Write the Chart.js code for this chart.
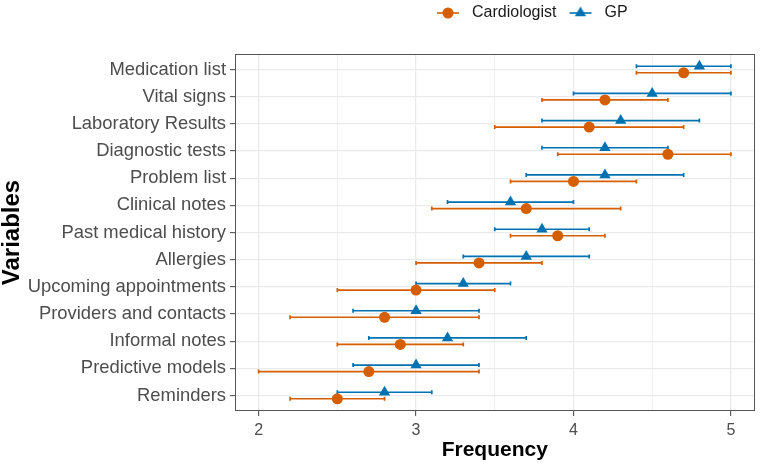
<!DOCTYPE html>
<html><head><meta charset="utf-8">
<script src="https://cdn.jsdelivr.net/npm/chart.js@4"></script>
<style>html,body{margin:0;padding:0;background:#fff;}</style>
</head><body>
<canvas id="c" width="761" height="464"></canvas>
<script>
const categories = ["Medication list","Vital signs","Laboratory Results","Diagnostic tests","Problem list","Clinical notes","Past medical history","Allergies","Upcoming appointments","Providers and contacts","Informal notes","Predictive models","Reminders"];
const seriesNames = ["Cardiologist","GP"];
const cardMean = [4.7,4.2,4.1,4.6,4.0,3.7,3.9,3.4,3.0,2.8,2.9,2.7,2.5];
const cardLow  = [4.4,3.8,3.5,3.9,3.6,3.1,3.6,3.0,2.5,2.2,2.5,2.0,2.2];
const cardHigh = [5.0,4.6,4.7,5.0,4.4,4.3,4.2,3.8,3.5,3.4,3.3,3.4,2.8];
const gpMean = [4.8,4.5,4.3,4.2,4.2,3.6,3.8,3.7,3.3,3.0,3.2,3.0,2.8];
const gpLow  = [4.4,4.0,3.8,3.8,3.7,3.2,3.5,3.3,3.0,2.6,2.7,2.6,2.5];
const gpHigh = [5.0,5.0,4.8,4.6,4.7,4.0,4.1,4.1,3.6,3.4,3.7,3.4,3.1];
const xTicks = [2,3,4,5];
const xMinorTicks = [2.5,3.5,4.5];

const ORANGE = '#D55E00', BLUE = '#0072B2';
const DODGE = 0.12;

function legendIcon(color, shape){
  const c = document.createElement('canvas');
  c.width = 30; c.height = 16;
  const g = c.getContext('2d');
  g.strokeStyle = color; g.fillStyle = color; g.lineWidth = 1.6;
  g.beginPath(); g.moveTo(3, 8); g.lineTo(25, 8); g.stroke();
  g.beginPath();
  if (shape === 'circle') { g.arc(14, 8, 5.5, 0, Math.PI*2); }
  else { const r = 6.5; g.moveTo(14, 8 - r); g.lineTo(14 + r*0.866, 8 + r*0.5); g.lineTo(14 - r*0.866, 8 + r*0.5); g.closePath(); }
  g.fill();
  return c;
}
const icons = [legendIcon(ORANGE,'circle'), legendIcon(BLUE,'triangle')];

const errorBars = {
  id: 'errorBars',
  beforeDatasetsDraw(chart) {
    const {ctx, scales:{x, y}} = chart;
    chart.data.datasets.forEach(ds => {
      ctx.save();
      ctx.strokeStyle = ds.borderColor; ctx.lineWidth = 1.7;
      ds.data.forEach((p, i) => {
        const py = y.getPixelForValue(p.y);
        const x0 = x.getPixelForValue(ds.errLow[i]), x1 = x.getPixelForValue(ds.errHigh[i]);
        ctx.beginPath();
        ctx.moveTo(x0, py); ctx.lineTo(x1, py);
        ctx.moveTo(x0, py-2); ctx.lineTo(x0, py+2);
        ctx.moveTo(x1, py-2); ctx.lineTo(x1, py+2);
        ctx.stroke();
      });
      ctx.restore();
    });
  }
};
const panelBorder = {
  id: 'panelBorder',
  afterDraw(chart) {
    const {ctx, chartArea:a} = chart;
    ctx.save(); ctx.strokeStyle = '#555'; ctx.lineWidth = 1;
    ctx.strokeRect(Math.round(a.left)+0.5, Math.round(a.top)+0.5, Math.round(a.right-a.left)-1, Math.round(a.bottom-a.top)-1);
    ctx.restore();
  }
};
const legendPlace = {
  id: 'legendPlace',
  beforeUpdate(chart) {
    const lg = chart.legend;
    if (lg && !lg._patched) { const f = lg.fit; lg.fit = function(){ f.call(this); this.height = 54; }; lg._patched = true; }
  },
  afterLayout(chart) {
    const lg = chart.legend; const w = lg.right - lg.left;
    lg.left = 424; lg.right = lg.left + w; lg.top = -5; lg.bottom = lg.top + lg.height;
  }
};

const mk = (i) => ({
  label: seriesNames[i],
  data: (i===0?cardMean:gpMean).map((v, k) => ({x: v, y: k + (i===0 ? DODGE : -DODGE)})),
  errLow: i===0?cardLow:gpLow, errHigh: i===0?cardHigh:gpHigh,
  borderColor: i===0?ORANGE:BLUE, backgroundColor: i===0?ORANGE:BLUE,
  pointStyle: i===0?'circle':'triangle', pointRadius: i===0?5.5:6.5, pointBorderWidth: 0,
  showLine: false
});

new Chart(document.getElementById('c'), {
  type: 'scatter',
  data: { datasets: [mk(0), mk(1)] },
  plugins: [errorBars, panelBorder, legendPlace],
  options: {
    responsive: false, animation: false, devicePixelRatio: 1,
    layout: { padding: { left: 0, right: 3, top: 0, bottom: 0 } },
    plugins: {
      tooltip: { enabled: false },
      legend: {
        position: 'top', align: 'start',
        labels: {
          usePointStyle: true, pointStyleWidth: 30, padding: 10,
          font: { family: 'Liberation Sans, Arial, sans-serif', size: 16 }, color: '#1a1a1a',
          generateLabels: (chart) => chart.data.datasets.map((ds, i) => ({
            text: ds.label, pointStyle: icons[i], fillStyle: ds.backgroundColor, strokeStyle: ds.borderColor,
            lineWidth: 0, hidden: false, datasetIndex: i, fontColor: '#1a1a1a'
          }))
        }
      }
    },
    scales: {
      x: {
        type: 'linear', min: 1.85, max: 5.15,
        afterBuildTicks: (s) => { s.ticks = xTicks.concat(xMinorTicks).sort((a,b)=>a-b).map(v => ({value: v})); },
        afterFit: (s) => { s.height = 53; },
        ticks: {
          autoSkip: false, maxRotation: 0, padding: 5, color: '#4d4d4d',
          font: { family: 'Liberation Sans, Arial, sans-serif', size: 16 },
          callback: (v) => xTicks.includes(v) ? String(v) : ''
        },
        grid: {
          color: '#ebebeb',
          lineWidth: (c) => (c.tick && xMinorTicks.includes(c.tick.value)) ? 0.8 : 1.3,
          tickColor: (c) => (c.tick && xMinorTicks.includes(c.tick.value)) ? 'rgba(0,0,0,0)' : '#444',
          tickLength: 5, tickWidth: 1
        },
        border: { display: false },
        title: { display: true, text: 'Frequency', color: '#000', padding: { top: 0, bottom: 3 },
          font: { family: 'Liberation Sans, Arial, sans-serif', size: 21, weight: 'bold', lineHeight: 1 } }
      },
      y: {
        type: 'linear', reverse: true, min: -0.57, max: 12.57,
        afterBuildTicks: (s) => { s.ticks = categories.map((c, i) => ({value: i})); },
        afterFit: (s) => { s.width = 235; },
        ticks: {
          autoSkip: false, padding: 4, color: '#4d4d4d',
          font: { family: 'Liberation Sans, Arial, sans-serif', size: 18.4 },
          callback: (v) => categories[Math.round(v)]
        },
        grid: { color: '#ebebeb', lineWidth: 1.3, tickColor: '#444', tickLength: 5, tickWidth: 1 },
        border: { display: false },
        title: { display: true, text: 'Variables', color: '#000', padding: { top: 0, bottom: 0 },
          font: { family: 'Liberation Sans, Arial, sans-serif', size: 24, weight: 'bold', lineHeight: 1 } }
      }
    }
  }
});
</script>
</body></html>
